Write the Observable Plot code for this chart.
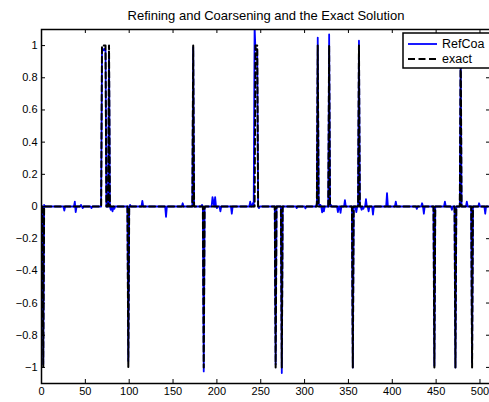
<!DOCTYPE html>
<html>
<head>
<meta charset="utf-8">
<script src="https://cdn.jsdelivr.net/npm/d3@7"></script>
<script src="https://cdn.jsdelivr.net/npm/@observablehq/plot@0.6"></script>
<style>
  html, body { margin: 0; padding: 0; background: #fff; overflow: hidden; }
  svg { display: block; max-width: none !important; }
</style>
</head>
<body>
<div id="chart"></div>
<script>
// Signal length and axis ticks
const N = 512;
const xTicks = [0, 50, 100, 150, 200, 250, 300, 350, 400, 450, 500];
const yTicks = [-1, -0.8, -0.6, -0.4, -0.2, 0, 0.2, 0.4, 0.6, 0.8, 1];

// Exact solution: zero everywhere except these samples
const exactIdx = [2, 69, 70, 71, 72, 73, 77, 99, 173, 185, 244, 245, 246, 267, 274, 315, 328, 355, 362, 448, 472, 478, 491];
const exactVal = [-1, 1, 1, 1, 1, 1, 1, -1, 1, -1, 1, 1, 1, -1, -1, 1, 1, -1, 1, -1, -1, 1, -1];

// Refined/coarsened reconstruction: nonzero samples
const refIdx = [2, 3, 26, 38, 39, 45, 47, 57, 69, 70, 71, 72, 73, 77, 79, 81, 83, 99, 101, 115, 142, 161,
  173, 183, 185, 186, 195, 196, 198, 200, 204, 217, 238, 241, 243, 244, 245, 246, 248, 267, 274, 291,
  301, 314, 315, 316, 318, 320, 322, 328, 330, 338, 341, 346, 355, 359, 362, 365, 367, 370, 373, 378,
  394, 404, 428, 434, 436, 448, 460, 468, 472, 478, 485, 491, 499, 506];
const refVal = [-0.98, 0.01, -0.025, 0.03, -0.035, 0.01, -0.01, -0.01, 0.98, 0.98, 0.97, 0.98, 0.97, 0.95, -0.02, -0.03, -0.015, -0.96, 0.01, 0.035, -0.065, 0.02,
  0.99, 0.01, -1.025, -0.01, 0.058, 0.03, 0.058, -0.01, -0.03, -0.045, 0.03, 0.02, 1.12, 0.97, 0.98, 0.97, -0.01, -0.98, -1.035, -0.01,
  -0.012, 0.02, 1.05, 0.02, 0.01, -0.037, -0.03, 1.07, 0.01, -0.035, -0.04, 0.04, -1.0, -0.035, 1.03, -0.02, -0.015, 0.045, -0.03, -0.05,
  0.083, 0.03, -0.015, 0.02, -0.045, -0.99, 0.03, -0.02, -1.0, 0.98, 0.03, -0.97, 0.02, -0.045];

function series(idx, val) {
  const m = new Map(idx.map((k, j) => [k, val[j]]));
  return d3.range(1, N + 1).map(i => ({i, v: m.has(i) ? m.get(i) : 0}));
}
const exact = series(exactIdx, exactVal);
const refCoa = series(refIdx, refVal);

const W = 491, H = 402;
const mL = 41, mR = 1, mT = 29, mB = 19;
const fw = W - mL - mR, fh = H - mT - mB;
const font = "'Liberation Sans', Arial, Helvetica, sans-serif";

const plot = Plot.plot({
  width: W,
  height: H,
  marginLeft: mL,
  marginRight: mR,
  marginTop: mT,
  marginBottom: mB,
  style: {fontFamily: font, fontSize: "11px", color: "black", background: "white"},
  x: {domain: [0, N]},
  y: {domain: [-1.1, 1.1]},
  marks: [
    Plot.line(refCoa, {x: "i", y: "v", stroke: "#0000ff", strokeWidth: 1.8, clip: true}),
    Plot.line(exact, {x: "i", y: "v", stroke: "black", strokeWidth: 2, strokeDasharray: "6,3.5", clip: true}),
    // inward ticks on all four sides
    Plot.tickX(xTicks, {x: d => d, insetTop: fh - 4, stroke: "black"}),
    Plot.tickX(xTicks, {x: d => d, insetBottom: fh - 4, stroke: "black"}),
    Plot.tickY(yTicks, {y: d => d, insetRight: fw - 4, stroke: "black"}),
    Plot.tickY(yTicks, {y: d => d, insetLeft: fw - 4, stroke: "black"}),
    Plot.axisX(xTicks, {anchor: "bottom", tickSize: 0, tickPadding: 4, label: null, fontSize: 11}),
    Plot.axisY(yTicks, {anchor: "left", tickSize: 0, tickPadding: 4, label: null, fontSize: 11,
      tickFormat: d => d === 0 ? "0" : (d < 0 ? "\u2212" : "") + Math.abs(d)}),
    Plot.frame({stroke: "black", strokeWidth: 1.5}),
    Plot.text(["Refining and Coarsening and the Exact Solution"], {
      frameAnchor: "top", dy: -18.5, fontSize: 13, fill: "black"
    })
  ]
});

// legend box in the upper right corner of the axes
const svg = d3.select(plot);
const lg = svg.append("g").attr("font-family", font).attr("font-size", 12.5).attr("text-anchor", "start");
lg.append("rect").attr("x", 403).attr("y", 33).attr("width", 120).attr("height", 35)
  .attr("fill", "white").attr("stroke", "black").attr("stroke-width", 1.5);
const items = [
  {label: "RefCoa", stroke: "#0000ff", width: 1.8, dash: null, y: 44},
  {label: "exact", stroke: "black", width: 2, dash: "7,3.5", y: 59}
];
for (const it of items) {
  lg.append("line").attr("x1", 408).attr("x2", 437).attr("y1", it.y).attr("y2", it.y)
    .attr("stroke", it.stroke).attr("stroke-width", it.width).attr("stroke-dasharray", it.dash);
  lg.append("text").attr("x", 442).attr("y", it.y).attr("dy", "0.35em").attr("fill", "black").text(it.label);
}

document.getElementById("chart").appendChild(plot);
</script>
</body>
</html>
